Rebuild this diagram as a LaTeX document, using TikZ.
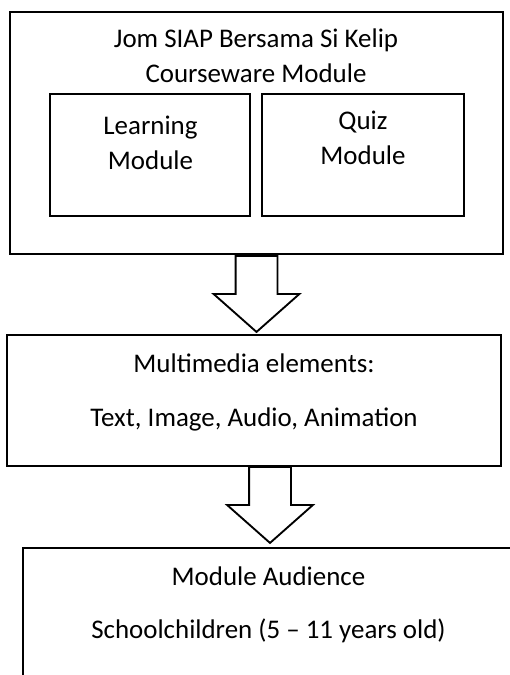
\documentclass[tikz,border=0pt]{standalone}
\usepackage{fontspec}
\setmainfont{Carlito}
\usetikzlibrary{shapes.arrows, positioning}

\begin{document}
\begin{tikzpicture}[
    x=0.75pt, y=-0.75pt,
    box/.style={rectangle, draw, line width=1.5pt, inner sep=0pt},
    txt/.style={anchor=base, align=center, inner sep=0pt, font=\fontsize{20.2}{26.25}\selectfont},
    bigarrow/.style={single arrow, draw, fill=white, line width=1.4pt, rotate=-90, anchor=tail,
        inner xsep=0pt, inner ysep=15pt, minimum height=57pt, single arrow head extend=16.5pt,
        single arrow tip angle=97}
]
    \clip (0,0) rectangle (510,675);
    % Courseware module
    \node[box, minimum width=369.75pt, minimum height=181.5pt] (course) at (256.5,133) {};
    \node[txt] (coursetxt) at (256,82.7) {Jom SIAP Bersama Si Kelip\\Courseware Module};
    \node[box, minimum width=150pt, minimum height=91.5pt] (learn) at (150,155) {};
    \node[txt] (learntxt) at (150.5,169) {Learning\\Module};
    \node[box, minimum width=151.5pt, minimum height=91.5pt] (quiz) at (363,155) {};
    \node[txt] (quiztxt) at (363,164) {Quiz\\Module};
    % Multimedia elements
    \node[box, minimum width=370.5pt, minimum height=98.25pt] (media) at (254,400.5) {};
    \node[txt] (mediatxt) at (254,426) {Multimedia elements:\\[14.25pt]Text, Image, Audio, Animation};
    % Audience
    \node[box, minimum width=367.5pt, minimum height=99pt] (aud) at (268,614) {};
    \node[txt] (audtxt) at (268.5,638) {Module Audience\\[13.5pt]Schoolchildren (5 – 11 years old)};
    % block arrows
    \node[bigarrow] (arr1) at (course.south) {};
    \node[bigarrow] (arr2) at (270,466) {};
\end{tikzpicture}
\end{document}
